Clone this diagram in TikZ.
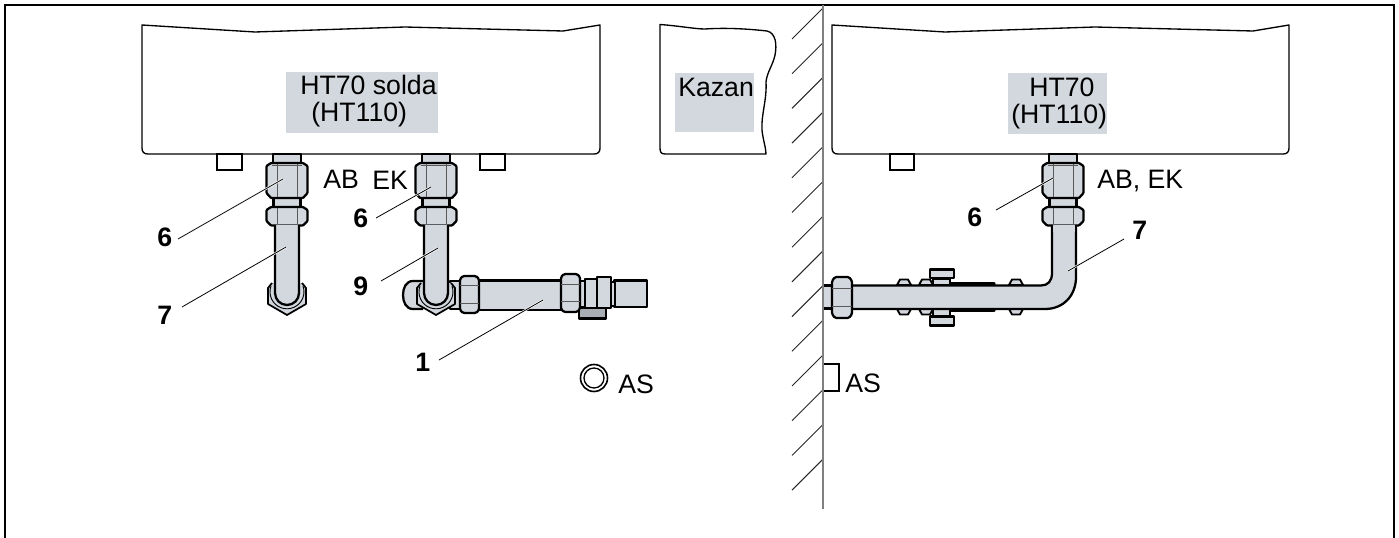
\documentclass[tikz,border=0pt]{standalone}
\usepackage{fontspec}
\setmainfont{Liberation Sans}
\definecolor{steel}{HTML}{D2D8DE}
\definecolor{wallgrey}{HTML}{808080}
\definecolor{brack}{HTML}{A8AEB4}
\tikzset{
  tank/.style={draw=black,line width=1pt,fill=white,line join=round},
  greybox/.style={fill=steel,draw=none},
  part/.style={draw=black,line width=1.7pt,fill=steel,line join=round},
  tab/.style={draw=black,line width=1.6pt,fill=white},
  detail/.style={draw=black!65,line width=.6pt},
  hatchline/.style={draw=black!85,line width=.7pt},
  leader/.style={draw=black,line width=.6pt},
  halo/.style={draw=white,line width=1.6pt},
  txt/.style={anchor=base west,inner sep=0pt,font=\fontsize{20}{24}\selectfont},
  num/.style={anchor=base west,inner sep=0pt,font=\fontsize{20}{24}\selectfont\bfseries},
}
\newcommand{\vfit}[1]{%
  \begin{scope}[shift={(#1,0)}]
    \draw[part] (-14,154) rectangle (14,163);
    \draw[part] (-13.5,197) rectangle (13.5,208);
    \draw[part,rounded corners=.6pt] (-16,163) -- (16,163) -- (20.5,166) -- (20.5,193) -- (16,198) -- (-16,198) -- (-20.5,193) -- (-20.5,166) -- cycle;
    \draw[part,rounded corners=.6pt] (-16,207) -- (16,207) -- (20.5,210) -- (20.5,221) -- (16,225.5) -- (-16,225.5) -- (-20.5,221) -- (-20.5,210) -- cycle;
    \draw[detail] (-9.5,164) -- (-9.5,197) (10,164) -- (10,197) (-9.5,208) -- (-9.5,225) (10,208) -- (10,225);
    \draw[detail] (-15,165) -- (15,165);
  \end{scope}}
\newcommand{\elbow}[1]{%
  \begin{scope}[shift={(#1,0)}]
    \draw[part,line width=1.3pt] (-15,283) -- (-19,288) -- (-19,304) -- (0,315) -- (19,304) -- (19,288) -- (15,283);
    \draw[draw=black,line width=.7pt,fill=steel] (-16,286) arc[start angle=200,end angle=-20,radius=17] ;
    \draw[part] (-12,225) -- (-12,293) arc[start angle=180,end angle=0,radius=12] -- (12,225);
  \end{scope}}
\newcommand{\bump}[1]{%
  \draw[part,line width=1.4pt] (#1,285) -- (#1+3,279.5) -- (#1+11,279.5) -- (#1+14,285) -- cycle;
  \draw[part,line width=1.4pt] (#1,309) -- (#1+3,314.5) -- (#1+11,314.5) -- (#1+14,309) -- cycle;}
\begin{document}
\begin{tikzpicture}[x=0.75pt,y=-0.75pt]
\useasboundingbox (0,0) rectangle (1399,538);
% frame
\draw[black,line width=1pt] (5,538) -- (5,5) -- (1394,5) -- (1394,538);
% tanks
\draw[tank,rounded corners=0pt] (142,25) -- (255,32) -- (405,27) -- (563,31) -- (600,25) -- (600,148) .. controls (600,152) and (598,154) .. (594,154) -- (148,154) .. controls (144,154) and (142,152) .. (142,148) -- cycle;
\draw[tank] (832,25) -- (945,32) -- (1095,27) -- (1253,31) -- (1289,25) -- (1289,148) .. controls (1289,152) and (1287,154) .. (1283,154) -- (838,154) .. controls (834,154) and (832,152) .. (832,148) -- cycle;
\draw[tank] (660,24.5) .. controls (680,26) and (695,29) .. (705,29) .. controls (720,28) and (740,28) .. (767,31) .. controls (776,33) and (777,45) .. (775,55) .. controls (773,65) and (767,72) .. (766,82) .. controls (767,100) and (761,115) .. (762,130) .. controls (763,140) and (766,148) .. (766,154) -- (665,154) .. controls (661,154) and (660,152) .. (660,148) -- cycle;
\node[greybox,minimum width=0pt,inner sep=0pt] (boxa) at (362,102.5) {\rule{0pt}{45.75pt}\rule{114pt}{0pt}};
\node[greybox,inner sep=0pt] (boxb) at (1057.5,103.5) {\rule{0pt}{45.75pt}\rule{74.25pt}{0pt}};
\node[greybox,inner sep=0pt] (boxc) at (714.5,102.5) {\rule{0pt}{44.25pt}\rule{59.25pt}{0pt}};
\node[txt] (t1) at (300,95) {HT70 solda};
\node[txt] (t2) at (311,122) {(HT110)};
\node[txt] (t3) at (1029,97) {HT70};
\node[txt] (t4) at (1011,124) {(HT110)};
\node[txt] (t5) at (678,97) {Kazan};
% tabs
\draw[tab] (217,154) rectangle (242,170);
\draw[tab] (480,154) rectangle (505,170);
\draw[tab] (890,154) rectangle (914,170);
% left fitting
\vfit{287}
\elbow{287}
% middle assembly
\draw[part] (423,281) -- (413,281) .. controls (406,281) and (403,288) .. (403,295) .. controls (403,302) and (406,309) .. (413,309) -- (423,309);
\draw[part] (450,281) rectangle (461,309);
\draw[part] (478,280.5) rectangle (562,310);
\draw[part,fill=brack] (579,308) rectangle (606,318.5);
\draw[part] (614,280.5) rectangle (647,307);
\draw[part] (580,281) rectangle (586,307);
\draw[part] (585,279) rectangle (598,308);
\draw[part] (597,277) rectangle (611,308);
\draw[part] (611,282) rectangle (615,306);
\draw[part,rounded corners=1pt] (463,276) -- (476,276) -- (479,279) -- (479,310) -- (476,313) -- (463,313) -- (460,310) -- (460,279) -- cycle;
\draw[detail] (460,285) -- (479,285) (460,303) -- (479,303);
\draw[part,rounded corners=1pt] (564,274) -- (577,274) -- (580,277) -- (580,309) -- (577,312) -- (564,312) -- (561,309) -- (561,277) -- cycle;
\draw[detail] (561,284) -- (580,284) (561,301) -- (580,301);
\vfit{436}
\elbow{436}
% right assembly
\draw[part] (823,285.5) rectangle (834,308.5);
\bump{897}
\bump{919}
\bump{1009}
\draw[part] (933,279) rectangle (950,285);
\draw[part] (933,309) rectangle (950,316);
\draw[part] (930,269.5) rectangle (954,278);
\draw[part] (930,316.5) rectangle (954,325.5);
\draw[black,line width=2.4pt,line cap=round] (951,284) -- (994,284) (951,310) -- (994,310);
\vfit{1063}
\draw[part] (1052,225) -- (1052,273) .. controls (1052,281) and (1048,285.5) .. (1041,285.5) -- (840,285.5) -- (840,309) -- (1045,309) .. controls (1064,309) and (1076,295) .. (1076,277) -- (1076,225);
\fill[steel] (1053,226) rectangle (1075,232);
\draw[part,rounded corners=1pt] (835,277) -- (849,277) -- (852,281) -- (852,314) -- (849,318) -- (835,318) -- (832,314) -- (832,281) -- cycle;
\draw[detail] (832,288) -- (852,288) (832,306) -- (852,306);
% wall
\foreach \b in {39,73.7,108.4,143.1,177.8,212.5,247.2,281.9,316.6,351.3,386,420.7,455.4,490.1}
  \draw[hatchline] (792,\b) -- (822.5,\b-30.5);
\draw[wallgrey,line width=1.5pt] (823,5) -- (823,509);
% AS markers
\draw[black,line width=1.2pt] (594,378) circle[radius=13.5];
\draw[black,line width=1pt] (594,378) circle[radius=10];
\draw[black,line width=1.8pt] (824,364) -- (839,364) -- (839,391) -- (824,391);
% labels
\node[txt] (ab) at (323,189) {AB};
\node[txt] (ek) at (372,190) {EK};
\node[txt] (abek) at (1097,189) {AB, EK};
\node[txt] (as1) at (618,393) {AS};
\node[txt] (as2) at (845,392) {AS};
\node[num] (n6a) at (157,247) {6};
\node[num] (n7a) at (157,325) {7};
\node[num] (n6b) at (353,228) {6};
\node[num] (n9) at (353,296) {9};
\node[num] (n1) at (415,371) {1};
\node[num] (n6c) at (967,227) {6};
\node[num] (n7c) at (1132,240) {7};
% leaders
\coordinate (a1) at (178,239); \coordinate (a2) at (283,179);
\coordinate (b1) at (182,307); \coordinate (b2) at (286,247);
\coordinate (c1) at (376,218); \coordinate (c2) at (431,187);
\coordinate (d1) at (381,281); \coordinate (d2) at (438,248);
\coordinate (e1) at (439,360); \coordinate (e2) at (543,300);
\coordinate (f1) at (996,210); \coordinate (f2) at (1053,178);
\coordinate (g1) at (1124,239); \coordinate (g2) at (1068,271);
\foreach \p/\q in {a1/a2,b1/b2,c1/c2,d1/d2,e1/e2,f1/f2,g1/g2}{
  \draw[halo] (\p) -- (\q);
  \draw[leader] (\p) -- (\q);
}
\end{tikzpicture}
\end{document}
